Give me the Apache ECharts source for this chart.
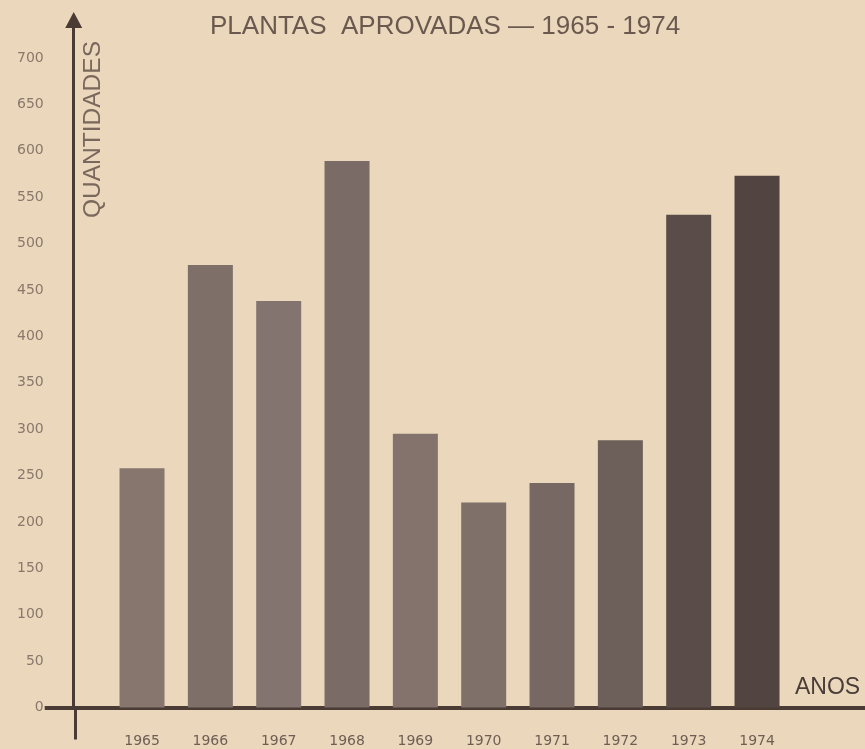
<!DOCTYPE html>
<html>
<head>
<meta charset="utf-8">
<style>
  html, body { margin: 0; padding: 0; background: #ebd7bc; }
  #chart { width: 865px; height: 749px; }
</style>
<script src="https://cdn.jsdelivr.net/npm/echarts@6/dist/echarts.min.js"></script>
</head>
<body>
<div id="chart"></div>
<script>
// dados
const anos = [1965, 1966, 1967, 1968, 1969, 1970, 1971, 1972, 1973, 1974];
const quantidades = [258, 477, 438, 589, 295, 221, 242, 288, 531, 573];
const yTicks = [0, 50, 100, 150, 200, 250, 300, 350, 400, 450, 500, 550, 600, 650, 700];

// tons das barras (as duas últimas mais escuras)
const tons = ['#86766e', '#7e6f69', '#847470', '#7a6b66', '#83736c', '#7f706a', '#776863', '#6d5f5a', '#5a4c48', '#524541'];

const chart = echarts.init(document.getElementById('chart'), null, {
  width: 865,
  height: 749,
  devicePixelRatio: 1
});

const corEixo = '#4a3b35';

const option = {
  backgroundColor: '#ebd7bc',
  animation: false,
  title: {
    text: 'PLANTAS  APROVADAS — 1965 - 1974',
    left: 205,
    top: 9,
    textStyle: {
      fontFamily: 'Liberation Sans',
      fontSize: 26,
      fontWeight: 'normal',
      color: '#6b594f'
    }
  },
  grid: {
    left: 73.7,
    right: 0,
    top: 20,
    bottom: 41.5,
    containLabel: false,
    outerBoundsMode: 'none'
  },
  xAxis: {
    type: 'value',
    min: 1964,
    max: 1975.58,
    interval: 1,
    axisLine: { onZero: false, lineStyle: { color: corEixo, width: 4 } },
    // prolongamento do eixo vertical abaixo do zero
    axisTick: {
      show: true,
      customValues: [1964.02],
      length: 32,
      lineStyle: { color: corEixo, width: 3 }
    },
    splitLine: { show: false },
    axisLabel: {
      margin: 27,
      showMinLabel: false,
      showMaxLabel: false,
      formatter: v => (anos.indexOf(v) >= 0 ? String(v) : ''),
      fontFamily: 'DejaVu Sans',
      fontSize: 14,
      color: '#6f5e54'
    },
    name: 'ANOS',
    nameLocation: 'end',
    nameGap: -70,
    nameTextStyle: {
      fontFamily: 'Liberation Sans',
      fontSize: 23,
      color: '#4a3d38',
      align: 'left',
      verticalAlign: 'bottom',
      padding: [0, 0, 8, 0]
    }
  },
  yAxis: {
    type: 'value',
    min: 0,
    max: 741,
    axisLine: {
      show: true,
      onZero: false,
      symbol: ['none', 'triangle'],
      symbolSize: [17, 16],
      lineStyle: { color: corEixo, width: 3 }
    },
    // traço do eixo horizontal à esquerda do eixo vertical
    axisTick: {
      show: true,
      customValues: [0],
      length: 29,
      lineStyle: { color: corEixo, width: 4 }
    },
    splitLine: { show: false },
    axisLabel: {
      customValues: yTicks,
      margin: 30,
      fontFamily: 'DejaVu Sans',
      fontSize: 14,
      color: '#8a786c'
    }
  },
  graphic: [{
    type: 'text',
    x: 81,
    y: 218,
    rotation: Math.PI / 2,
    style: {
      text: 'QUANTIDADES',
      fontFamily: 'Liberation Sans',
      fontSize: 24.5,
      fill: '#7a685d'
    }
  }],
  series: [{
    type: 'bar',
    barWidth: 45,
    data: anos.map((a, i) => ({
      value: [a, quantidades[i]],
      itemStyle: { color: tons[i] }
    }))
  }]
};

chart.setOption(option);
</script>
</body>
</html>
